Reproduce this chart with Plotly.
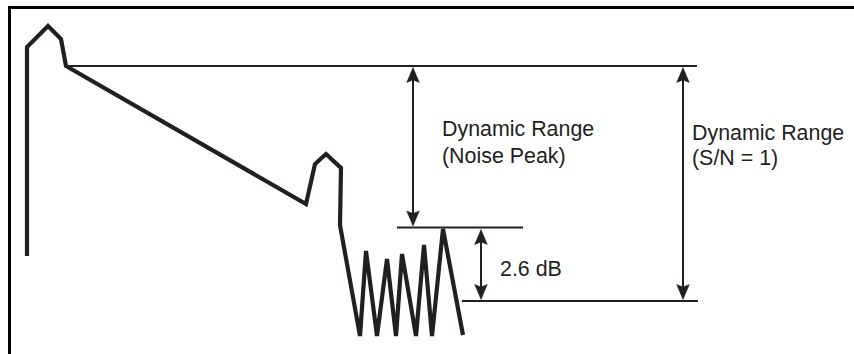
import plotly.graph_objects as go

# ---------------- data (diagram units: x to the right, y downward) ----------------
trace_x = [27, 27, 48, 61, 66, 306, 315, 326, 341, 340, 360, 366, 377, 387, 396, 402, 416, 424, 432, 443, 463]
trace_y = [256, 47, 26, 39, 66, 204, 164, 154, 168, 225, 336, 251, 336, 259, 336, 254, 336, 245, 336, 229, 335]

level_top = 66.0          # reference (top) level
level_noise_peak = 227.5  # noise peak level
level_sn1 = 301.0         # S/N = 1 level

ref_lines = {
    "top": (66, 697, level_top),
    "noise_peak": (397, 523, level_noise_peak),
    "sn1": (462, 698, level_sn1),
}

arrows = {
    "dr_noise_peak": (413, level_top + 1.5, level_noise_peak - 1.5),
    "dr_sn1": (683, level_top + 1.5, level_sn1 - 1.5),
    "db26": (481, level_noise_peak + 2, level_sn1 - 1.5),
}

labels = [
    ("Dynamic Range", 439.5, 129),
    ("(Noise Peak)", 439.5, 155.5),
    ("Dynamic Range", 690, 133),
    ("(S/N = 1)", 690, 158),
    ("2.6 dB", 497.5, 268.5),
]

W, H = 854, 354
INK = "#231f20"

fig = go.Figure()

# main trace
fig.add_trace(go.Scatter(x=trace_x, y=trace_y, mode="lines",
                         line=dict(color=INK, width=4.2), hoverinfo="skip"))

# reference lines
for name, (x0, x1, y) in ref_lines.items():
    fig.add_trace(go.Scatter(x=[x0, x1], y=[y, y], mode="lines",
                             line=dict(color=INK, width=2.2), hoverinfo="skip"))

# arrows: shafts + filled heads
HEAD_L, HEAD_W, NOTCH = 15, 6.3, 2.5
for name, (x, yt, yb) in arrows.items():
    fig.add_trace(go.Scatter(x=[x, x], y=[yt + 5, yb - 5], mode="lines",
                             line=dict(color=INK, width=2), hoverinfo="skip"))
    for tip, d in ((yt, 1), (yb, -1)):
        hx = [x, x - HEAD_W, x, x + HEAD_W, x]
        hy = [tip, tip + d * HEAD_L, tip + d * (HEAD_L - NOTCH), tip + d * HEAD_L, tip]
        fig.add_trace(go.Scatter(x=hx, y=hy, mode="lines", fill="toself",
                                 fillcolor=INK, line=dict(color=INK, width=0.5),
                                 hoverinfo="skip"))

for text, x, y in labels:
    fig.add_annotation(x=x, y=y, text=text, showarrow=False, xanchor="left", yanchor="middle",
                       font=dict(family="Liberation Sans, Arial, sans-serif", size=21.4, color=INK))

# frame (top and left edges visible) drawn as plain traces
fig.add_trace(go.Scatter(x=[8, W + 10], y=[7.5, 7.5], mode="lines",
                         line=dict(color="black", width=3), hoverinfo="skip", cliponaxis=False))
fig.add_trace(go.Scatter(x=[9.5, 9.5], y=[6, H + 10], mode="lines",
                         line=dict(color="black", width=3), hoverinfo="skip", cliponaxis=False))

fig.update_layout(
    width=W, height=H, margin=dict(l=0, r=0, t=0, b=0),
    paper_bgcolor="white", plot_bgcolor="white", showlegend=False,
    xaxis=dict(range=[0, W], visible=False, fixedrange=True),
    yaxis=dict(range=[H, 0], visible=False, fixedrange=True),
)

fig.write_html("out.html", config={"displayModeBar": False, "responsive": False},
               post_script="document.body.style.margin='0';document.body.style.overflow='hidden';")
